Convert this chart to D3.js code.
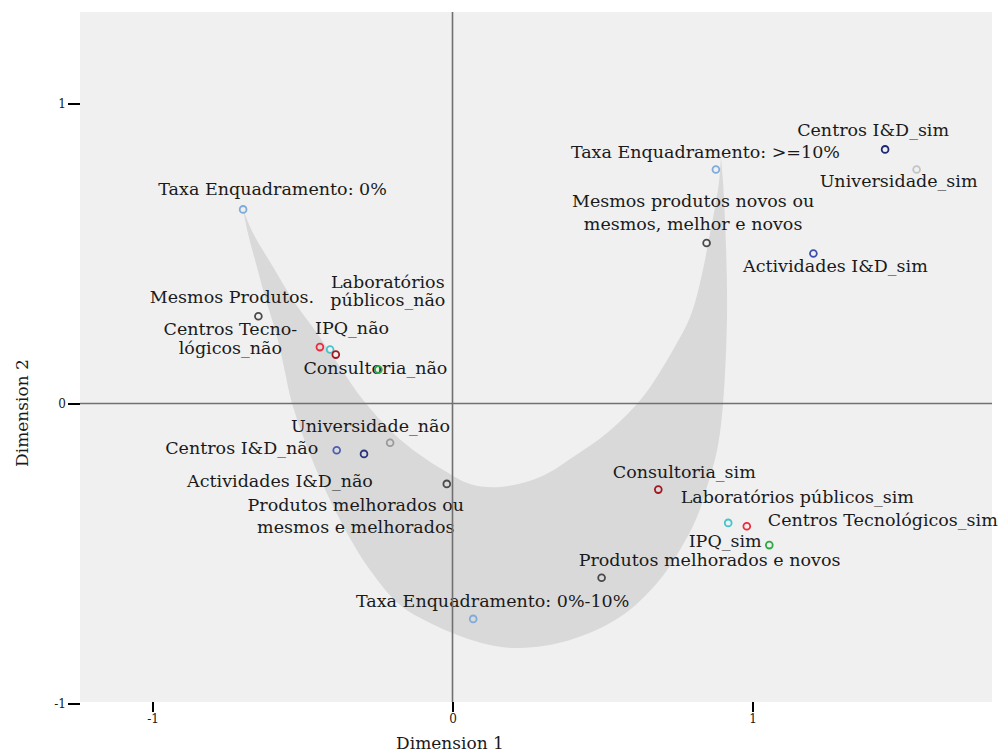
<!DOCTYPE html>
<html>
<head>
<meta charset="utf-8">
<script src="https://cdn.jsdelivr.net/npm/d3@7"></script>
<style>
  body { margin: 0; background: #fff; }
  text { font-family: "DejaVu Serif", serif; fill: #1a1a1a; }
</style>
</head>
<body>
<div id="chart"></div>
<script>
//data
var names = [
    "Taxa Enquadramento: 0%",
    "Taxa Enquadramento: >=10%",
    "Taxa Enquadramento: 0%-10%",
    "Mesmos Produtos.",
    "Mesmos produtos  novos ou\nmesmos, melhor e novos",
    "Produtos melhorados ou\nmesmos e melhorados",
    "Produtos melhorados e novos",
    "Centros I&D_sim",
    "Centros I&D_não",
    "Actividades I&D_sim",
    "Actividades I&D_não",
    "Universidade_sim",
    "Universidade_não",
    "Centros Tecno-\nlógicos_não",
    "Centros Tecnológicos_sim",
    "IPQ_não",
    "IPQ_sim",
    "Laboratórios\npúblicos_não",
    "Laboratórios públicos_sim",
    "Consultoria_não",
    "Consultoria_sim"
];
var dim1 = [-0.698, 0.878, 0.069, -0.647, 0.847, -0.019, 0.497, 1.442, -0.386, 1.203, -0.295,
            1.547, -0.208, -0.442, 0.981, -0.408, 0.919, -0.389, 1.056, -0.247, 0.686];
var dim2 = [0.647, 0.780, -0.718, 0.291, 0.535, -0.268, -0.581, 0.847, -0.156, 0.500, -0.168,
            0.780, -0.131, 0.188, -0.409, 0.180, -0.398, 0.163, -0.472, 0.113, -0.287];
var pointColors = ["#7eaadc", "#7eaadc", "#7eaadc", "#4a4a4a", "#4a4a4a", "#4a4a4a", "#4a4a4a",
                   "#1c2677", "#4b5db0", "#3c4fb0", "#2a3580", "#c4c4c4", "#9a9a9a",
                   "#ee2a3a", "#ee2a3a", "#44c4cc", "#44c4cc", "#a3181e", "#2ca844", "#2ca844", "#a3181e"];

//grey crescent behind the points (outer edge left->right, inner edge right->left)
var shapeOuter = [[-0.698, 0.648], [-0.682, 0.568], [-0.652, 0.455], [-0.622, 0.345], [-0.588, 0.235],
                  [-0.562, 0.122], [-0.538, 0.012], [-0.502, -0.098], [-0.458, -0.212], [-0.408, -0.322],
                  [-0.348, -0.438], [-0.275, -0.555], [-0.175, -0.672], [-0.075, -0.732], [0.025, -0.775],
                  [0.125, -0.805], [0.225, -0.815], [0.392, -0.788], [0.558, -0.712], [0.682, -0.598],
                  [0.758, -0.488], [0.815, -0.378], [0.852, -0.265], [0.882, -0.155], [0.902, 0.002],
                  [0.915, 0.288], [0.912, 0.512], [0.902, 0.735], [0.895, 0.822]];
var shapeInner = [[0.895, 0.822], [0.888, 0.735], [0.848, 0.512], [0.825, 0.402], [0.792, 0.288],
                  [0.735, 0.178], [0.668, 0.068], [0.618, 0.002], [0.515, -0.098], [0.402, -0.178],
                  [0.292, -0.245], [0.158, -0.278], [0.058, -0.268], [-0.025, -0.225], [-0.108, -0.172],
                  [-0.198, -0.098], [-0.298, 0.012], [-0.375, 0.122], [-0.452, 0.235], [-0.532, 0.345],
                  [-0.598, 0.455], [-0.665, 0.568], [-0.698, 0.648]];

var xTicks = [-1, 0, 1];
var yTicks = [-1, 0, 1];

//label placement: [dx, dy, lineHeight] in px from the point
var labelPos = [
    [29.5, -14, 0], [-10.5, -12, 0], [19.5, -12, 0], [-26.5, -13, 0], [-13.5, -36, 23],
    [-91, 27, 22], [108, -12, 0], [-12, -13, 0], [-95, 4, 0], [22, 18, 0], [-84, 33, 0],
    [-18, 17, 0], [-19.5, -11, 0], [-89.5, -12, 19], [136, 0, 0], [22, -16, 0], [-3, 24, 0],
    [52, -67, 18], [28, -42, 0], [-3, 4, 0], [26, -12, 0]
];

//layout
var svgWidth = 1004;
var svgHeight = 754;
var plot = {left: 80, right: 992, top: 12, bottom: 702};

var x = d3.scaleLinear().domain([-1, 1]).range([152.5, 752.5]);
var y = d3.scaleLinear().domain([-1, 1]).range([703.5, 103.5]);

var svg = d3.select('#chart')
        .append('svg')
        .attr('width', svgWidth)
        .attr('height', svgHeight);

//plot background
svg.append('rect')
        .attr('x', plot.left)
        .attr('y', plot.top)
        .attr('width', plot.right - plot.left)
        .attr('height', plot.bottom - plot.top)
        .attr('fill', '#f0f0f0');

//crescent
var shapeLine = d3.line()
        .x(d => x(d[0]))
        .y(d => y(d[1]))
        .curve(d3.curveCatmullRom.alpha(0.5));
var shapePath = shapeLine(shapeOuter) + shapeLine(shapeInner).replace(/^M/, 'L') + 'Z';
svg.append('path')
        .attr('d', shapePath)
        .attr('fill', '#d9d9d9');

var data = names.map((n, i) => ({name: n, d1: dim1[i], d2: dim2[i], color: pointColors[i], pos: labelPos[i]}));

//point labels
var labelG = svg.append('g');
data.forEach(d => {
    var lines = d.name.split('\n');
    var t = labelG.append('text')
            .attr('x', x(d.d1) + d.pos[0])
            .attr('y', y(d.d2) + d.pos[1])
            .style('font-size', '17.5px')
            .style('text-anchor', 'middle');
    lines.forEach((l, k) => {
        t.append('tspan')
            .attr('x', x(d.d1) + d.pos[0])
            .attr('y', y(d.d2) + d.pos[1] + k * d.pos[2])
            .text(l);
    });
});

//reference lines through the origin
svg.append('line')
        .attr('x1', x(0)).attr('x2', x(0))
        .attr('y1', plot.top).attr('y2', plot.bottom)
        .attr('stroke', '#707070')
        .attr('stroke-width', 1.6);
svg.append('line')
        .attr('x1', plot.left).attr('x2', plot.right)
        .attr('y1', y(0)).attr('y2', y(0))
        .attr('stroke', '#707070')
        .attr('stroke-width', 1.6);

//points
svg.selectAll('circle')
        .data(data)
        .enter()
        .append('circle')
        .attr('cx', d => x(d.d1))
        .attr('cy', d => y(d.d2))
        .attr('r', 3.4)
        .attr('fill', 'none')
        .attr('stroke', d => d.color)
        .attr('stroke-width', 1.8);

//axes
var bottomAxis = d3.axisBottom(x).tickValues(xTicks).tickSize(10).tickPadding(2).tickFormat(d => String(d));
var leftAxis = d3.axisLeft(y).tickValues(yTicks).tickSize(12).tickPadding(2).tickFormat(d => String(d));

var gx = svg.append('g')
        .attr('transform', `translate(0, ${plot.bottom})`)
        .call(bottomAxis);
var gy = svg.append('g')
        .attr('transform', `translate(${plot.left}, 0)`)
        .call(leftAxis);
[gx, gy].forEach(g => {
    g.select('.domain').remove();
    g.selectAll('.tick line').attr('stroke', '#000').attr('stroke-width', 2);
    g.selectAll('.tick text')
        .style('font-family', '"DejaVu Serif", serif')
        .style('font-size', '12px')
        .attr('fill', '#1a1a1a');
});

//axis titles
svg.append('text')
        .attr('x', 450)
        .attr('y', 749)
        .style('font-size', '17px')
        .style('text-anchor', 'middle')
        .text('Dimension 1');
svg.append('text')
        .attr('transform', 'rotate(-90)')
        .attr('x', -413)
        .attr('y', 28)
        .style('font-size', '17px')
        .style('text-anchor', 'middle')
        .text('Dimension 2');
</script>
</body>
</html>
